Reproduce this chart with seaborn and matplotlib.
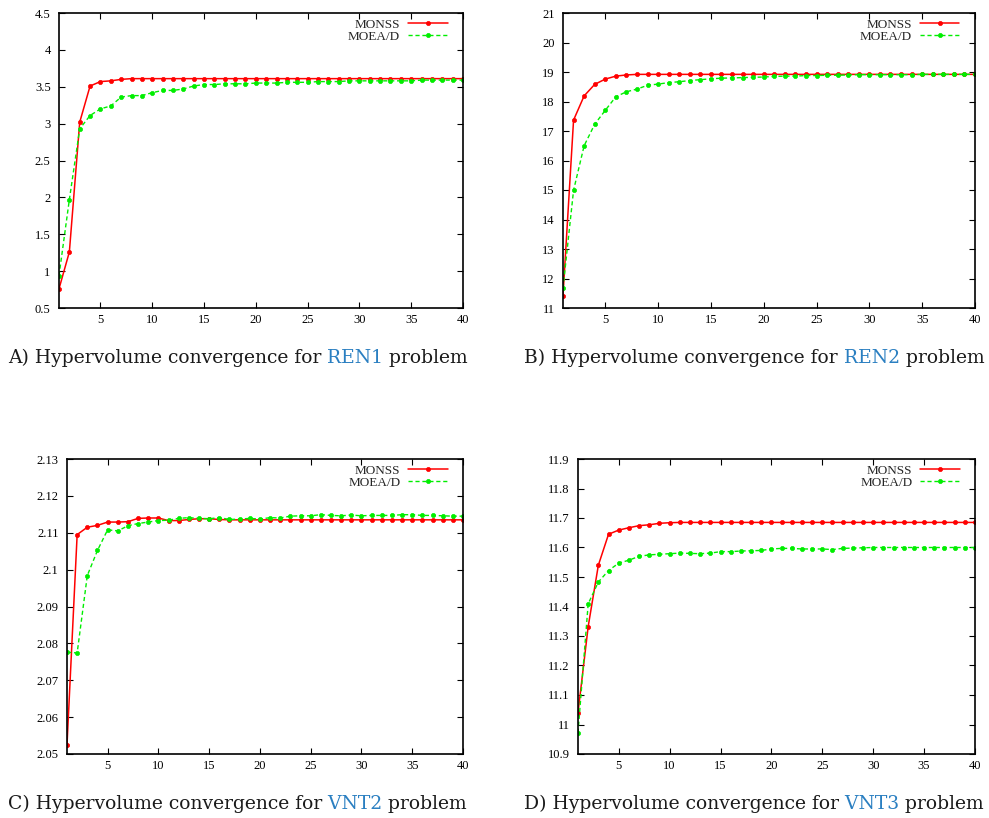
import matplotlib
matplotlib.use("Agg")
import matplotlib.pyplot as plt
import seaborn as sns
import pandas as pd
from matplotlib.ticker import FuncFormatter, MultipleLocator

generations = list(range(1, 41))

ren1_monss = [0.76, 1.26, 3.02, 3.51, 3.57, 3.58, 3.60, 3.61, 3.61, 3.61,
              3.61, 3.61, 3.61, 3.61, 3.61, 3.61, 3.61, 3.61, 3.61, 3.61,
              3.61, 3.61, 3.61, 3.61, 3.61, 3.61, 3.61, 3.61, 3.61, 3.61,
              3.61, 3.61, 3.61, 3.61, 3.61, 3.61, 3.61, 3.61, 3.61, 3.61]
ren1_moead = [0.94, 1.97, 2.93, 3.11, 3.20, 3.24, 3.36, 3.38, 3.38, 3.42,
              3.45, 3.45, 3.47, 3.51, 3.53, 3.53, 3.54, 3.54, 3.54, 3.55,
              3.55, 3.55, 3.56, 3.56, 3.56, 3.57, 3.57, 3.57, 3.58, 3.58,
              3.58, 3.58, 3.58, 3.58, 3.58, 3.59, 3.59, 3.59, 3.59, 3.59]

ren2_monss = [11.42, 17.37, 18.19, 18.58, 18.76, 18.86, 18.90, 18.92, 18.92, 18.92,
              18.92, 18.92, 18.92, 18.92, 18.92, 18.92, 18.92, 18.92, 18.92, 18.92,
              18.92, 18.92, 18.92, 18.92, 18.92, 18.92, 18.92, 18.92, 18.92, 18.92,
              18.92, 18.92, 18.92, 18.92, 18.92, 18.92, 18.92, 18.92, 18.92, 18.92]
ren2_moead = [11.67, 14.99, 16.50, 17.23, 17.70, 18.16, 18.33, 18.42, 18.55, 18.59,
              18.64, 18.67, 18.71, 18.74, 18.77, 18.79, 18.80, 18.81, 18.82, 18.83,
              18.85, 18.86, 18.86, 18.88, 18.88, 18.89, 18.89, 18.90, 18.91, 18.91,
              18.91, 18.91, 18.91, 18.91, 18.92, 18.92, 18.92, 18.92, 18.92, 18.92]

vnt2_monss = [2.0524, 2.1095, 2.1115, 2.1120, 2.1129, 2.1129, 2.1130, 2.1139, 2.1140, 2.1140,
              2.1133, 2.1133, 2.1136, 2.1138, 2.1138, 2.1136, 2.1135, 2.1135, 2.1135, 2.1135,
              2.1135, 2.1135, 2.1135, 2.1135, 2.1135, 2.1135, 2.1135, 2.1135, 2.1135, 2.1135,
              2.1135, 2.1135, 2.1135, 2.1135, 2.1135, 2.1135, 2.1135, 2.1135, 2.1135, 2.1135]
vnt2_moead = [2.0776, 2.0774, 2.0984, 2.1052, 2.1108, 2.1105, 2.1119, 2.1125, 2.1129, 2.1133,
              2.1134, 2.1139, 2.1141, 2.1139, 2.1138, 2.1141, 2.1136, 2.1137, 2.1139, 2.1137,
              2.1141, 2.1140, 2.1145, 2.1146, 2.1146, 2.1149, 2.1147, 2.1146, 2.1148, 2.1146,
              2.1147, 2.1147, 2.1147, 2.1149, 2.1149, 2.1147, 2.1147, 2.1146, 2.1145, 2.1145]

vnt3_monss = [11.040, 11.332, 11.540, 11.645, 11.659, 11.667, 11.674, 11.677, 11.682, 11.684,
              11.685, 11.685, 11.685, 11.685, 11.685, 11.685, 11.685, 11.685, 11.685, 11.685,
              11.685, 11.685, 11.685, 11.685, 11.685, 11.685, 11.685, 11.685, 11.685, 11.685,
              11.685, 11.685, 11.685, 11.685, 11.685, 11.685, 11.685, 11.685, 11.685, 11.685]
vnt3_moead = [10.972, 11.409, 11.483, 11.522, 11.547, 11.557, 11.570, 11.575, 11.577, 11.579,
              11.581, 11.580, 11.579, 11.581, 11.586, 11.586, 11.588, 11.589, 11.590, 11.595,
              11.597, 11.597, 11.595, 11.595, 11.595, 11.593, 11.597, 11.598, 11.599, 11.600,
              11.600, 11.600, 11.600, 11.600, 11.600, 11.600, 11.600, 11.600, 11.600, 11.600]

algorithms = ["MONSS", "MOEA/D"]
panel_letters = ["A)", "B)", "C)", "D)"]
problem_names = ["REN1", "REN2", "VNT2", "VNT3"]
y_limits = [(0.5, 4.5), (11, 21), (2.05, 2.13), (10.9, 11.9)]
y_steps = [0.5, 1, 0.01, 0.1]
x_ticks = [5, 10, 15, 20, 25, 30, 35, 40]

series = [(ren1_monss, ren1_moead), (ren2_monss, ren2_moead),
          (vnt2_monss, vnt2_moead), (vnt3_monss, vnt3_moead)]

sns.set_style("ticks")
plt.rcParams["font.family"] = ["Liberation Serif", "DejaVu Serif"]

fig = plt.figure(figsize=(9.89, 8.18), dpi=100)

W, H = 989.0, 818.0
axes_px = [(59, 13, 463, 308), (563, 13, 975, 308),
           (67, 459, 463, 754), (578, 459, 975, 754)]
caption_px = [(8, 363), (524, 363), (8, 809), (524, 809)]

palette = {"MONSS": "#ff0000", "MOEA/D": "#00ee00"}
cap_size = 13.5

for i, (monss, moead) in enumerate(series):
    l, t, r, b = axes_px[i]
    ax = fig.add_axes([l / W, 1 - b / H, (r - l) / W, (b - t) / H])
    df = pd.DataFrame({
        "gen": generations + generations,
        "hv": monss + moead,
        "algo": ["MONSS"] * len(monss) + ["MOEA/D"] * len(moead),
    })
    sns.lineplot(data=df, x="gen", y="hv", hue="algo", style="algo",
                 hue_order=algorithms, style_order=algorithms,
                 palette=palette, markers={"MONSS": "o", "MOEA/D": "o"},
                 dashes={"MONSS": "", "MOEA/D": (3, 2)},
                 markersize=3, ax=ax, legend=False)
    lines = ax.get_lines()[:2]
    for ln, w in zip(lines, (1.1, 1.0)):
        ln.set_markeredgecolor(ln.get_color())
        ln.set_markeredgewidth(0.5)
        ln.set_linewidth(w)
    ax.set_xlim(1, 40)
    ax.set_ylim(*y_limits[i])
    ax.set_xticks(x_ticks)
    ax.yaxis.set_major_locator(MultipleLocator(y_steps[i]))
    ax.yaxis.set_major_formatter(FuncFormatter(lambda v, p: "%g" % round(v, 6)))
    ax.set_xlabel("")
    ax.set_ylabel("")
    for s in ax.spines.values():
        s.set_visible(True)
        s.set_linewidth(1.2)
        s.set_color("black")
    ax.tick_params(axis="both", which="major", direction="in", length=4,
                   width=0.8, top=True, right=True, labelsize=9, colors="black")
    ax.tick_params(axis="x", pad=4)
    ax.tick_params(axis="y", pad=6)
    ax.legend(lines, algorithms, loc="upper right", bbox_to_anchor=(0.975, 1.0),
              frameon=False, markerfirst=False, handlelength=3.0, numpoints=1,
              fontsize=9.5, labelspacing=0.0, borderaxespad=0.2,
              borderpad=0.2, handletextpad=0.6)

    cx, cy = caption_px[i]
    t1 = fig.text(cx / W, 1 - cy / H, panel_letters[i] + " Hypervolume convergence for",
                  fontsize=cap_size, family="DejaVu Serif", va="baseline", ha="left",
                  color="#1a1a1a")
    t2 = ax.annotate(" " + problem_names[i], xy=(1, 0), xycoords=t1,
                     va="bottom", ha="left", fontsize=cap_size, family="DejaVu Serif",
                     color="#2a7fc1", annotation_clip=False)
    ax.annotate(" problem", xy=(1, 0), xycoords=t2, va="bottom", ha="left",
                fontsize=cap_size, family="DejaVu Serif", color="#1a1a1a",
                annotation_clip=False)

fig.savefig("out.png", dpi=100)
